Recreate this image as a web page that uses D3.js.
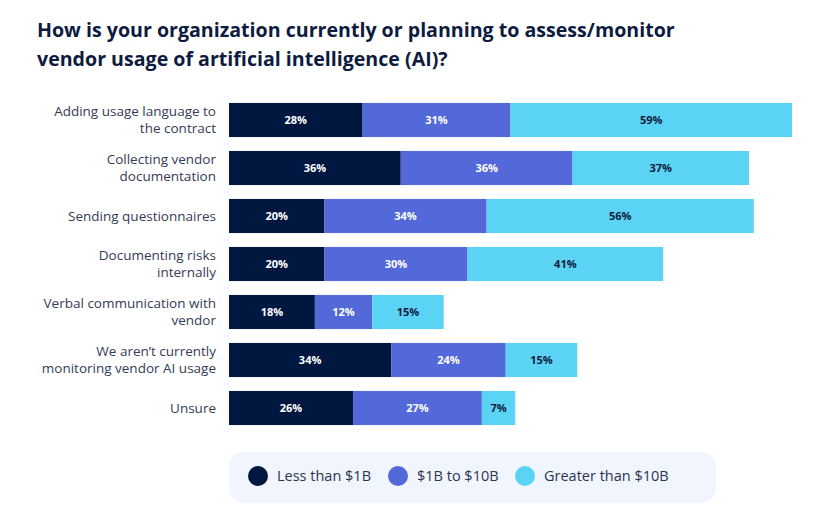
<!DOCTYPE html>
<html>
<head>
<meta charset="utf-8">
<script src="https://cdn.jsdelivr.net/npm/d3@7"></script>
<style>
  html, body { margin: 0; padding: 0; background: #fff; }
  #chart { width: 831px; height: 508px; }
  text { font-family: "Open Sans", sans-serif; }
</style>
</head>
<body>
<div id="chart"></div>
<script>
(function () {
  const categories = [
    ["Adding usage language to", "the contract"],
    ["Collecting vendor", "documentation"],
    ["Sending questionnaires"],
    ["Documenting risks", "internally"],
    ["Verbal communication with", "vendor"],
    ["We aren\u2019t currently", "monitoring vendor AI usage"],
    ["Unsure"]
  ];
  const seriesNames = ["Less than $1B", "$1B to $10B", "Greater than $10B"];
  const lessThan1B = [28, 36, 20, 20, 18, 34, 26];
  const from1Bto10B = [31, 36, 34, 30, 12, 24, 27];
  const greaterThan10B = [59, 37, 56, 41, 15, 15, 7];

  const COLORS = ["#00173f", "#5469d9", "#5bd3f5"];
  const LABEL_COLORS = ["#ffffff", "#ffffff", "#0d1b3e"];
  const W = 831, H = 508;

  const rows = categories.map((c, i) => ({
    label: c,
    values: [lessThan1B[i], from1Bto10B[i], greaterThan10B[i]]
  }));

  const svg = d3.select("#chart").append("svg")
    .attr("width", W).attr("height", H)
    .attr("viewBox", `0 0 ${W} ${H}`);

  // title
  const title = ["How is your organization currently or planning to assess/monitor",
                 "vendor usage of artificial intelligence (AI)?"];
  title.forEach((t, j) => {
    svg.append("text")
      .attr("x", 37).attr("y", 37 + j * 29)
      .attr("font-size", "19.6px").attr("font-weight", 700)
      .attr("fill", "#0d1b3e")
      .text(t);
  });

  const x = d3.scaleLinear().domain([0, 118]).range([229, 792]);
  const y = d3.scaleBand()
    .domain(d3.range(rows.length))
    .range([96, 432])
    .paddingInner(0.29).paddingOuter(0.145);

  const g = svg.append("g");
  rows.forEach((r, i) => {
    let acc = 0;
    const segs = r.values.map((v, k) => {
      const s = { k, v, x0: acc, x1: acc + v };
      acc += v;
      return s;
    });
    const row = g.append("g");
    row.selectAll("rect")
      .data(segs)
      .join("rect")
      .attr("x", d => x(d.x0))
      .attr("y", y(i))
      .attr("width", d => x(d.x1) - x(d.x0))
      .attr("height", y.bandwidth())
      .attr("fill", d => COLORS[d.k]);
    row.selectAll("text.val")
      .data(segs)
      .join("text")
      .attr("class", "val")
      .attr("x", d => (x(d.x0) + x(d.x1)) / 2)
      .attr("y", y(i) + y.bandwidth() / 2)
      .attr("dy", "0.35em")
      .attr("text-anchor", "middle")
      .attr("font-size", "11px").attr("font-weight", 700)
      .attr("fill", d => LABEL_COLORS[d.k])
      .text(d => d.v + "%");

    const cy = y(i) + y.bandwidth() / 2;
    const lines = r.label;
    const lh = 17;
    const t = svg.append("text")
      .attr("text-anchor", "end")
      .attr("font-size", "13.5px")
      .attr("fill", "#343b55");
    lines.forEach((ln, j) => {
      t.append("tspan")
        .attr("x", 216)
        .attr("y", cy + (j - (lines.length - 1) / 2) * lh)
        .attr("dy", "0.35em")
        .text(ln);
    });
  });

  // legend
  const legend = svg.append("g");
  legend.append("rect")
    .attr("x", 229).attr("y", 452)
    .attr("width", 487).attr("height", 51)
    .attr("rx", 15)
    .attr("fill", "#f0f5fe");
  const lx = [258, 398, 525];
  seriesNames.forEach((n, k) => {
    legend.append("circle")
      .attr("cx", lx[k]).attr("cy", 476).attr("r", 10)
      .attr("fill", COLORS[k]);
    legend.append("text")
      .attr("x", lx[k] + 19).attr("y", 476)
      .attr("dy", "0.35em")
      .attr("font-size", "14.5px")
      .attr("fill", "#2e3450")
      .text(n);
  });
})();
</script>
</body>
</html>
